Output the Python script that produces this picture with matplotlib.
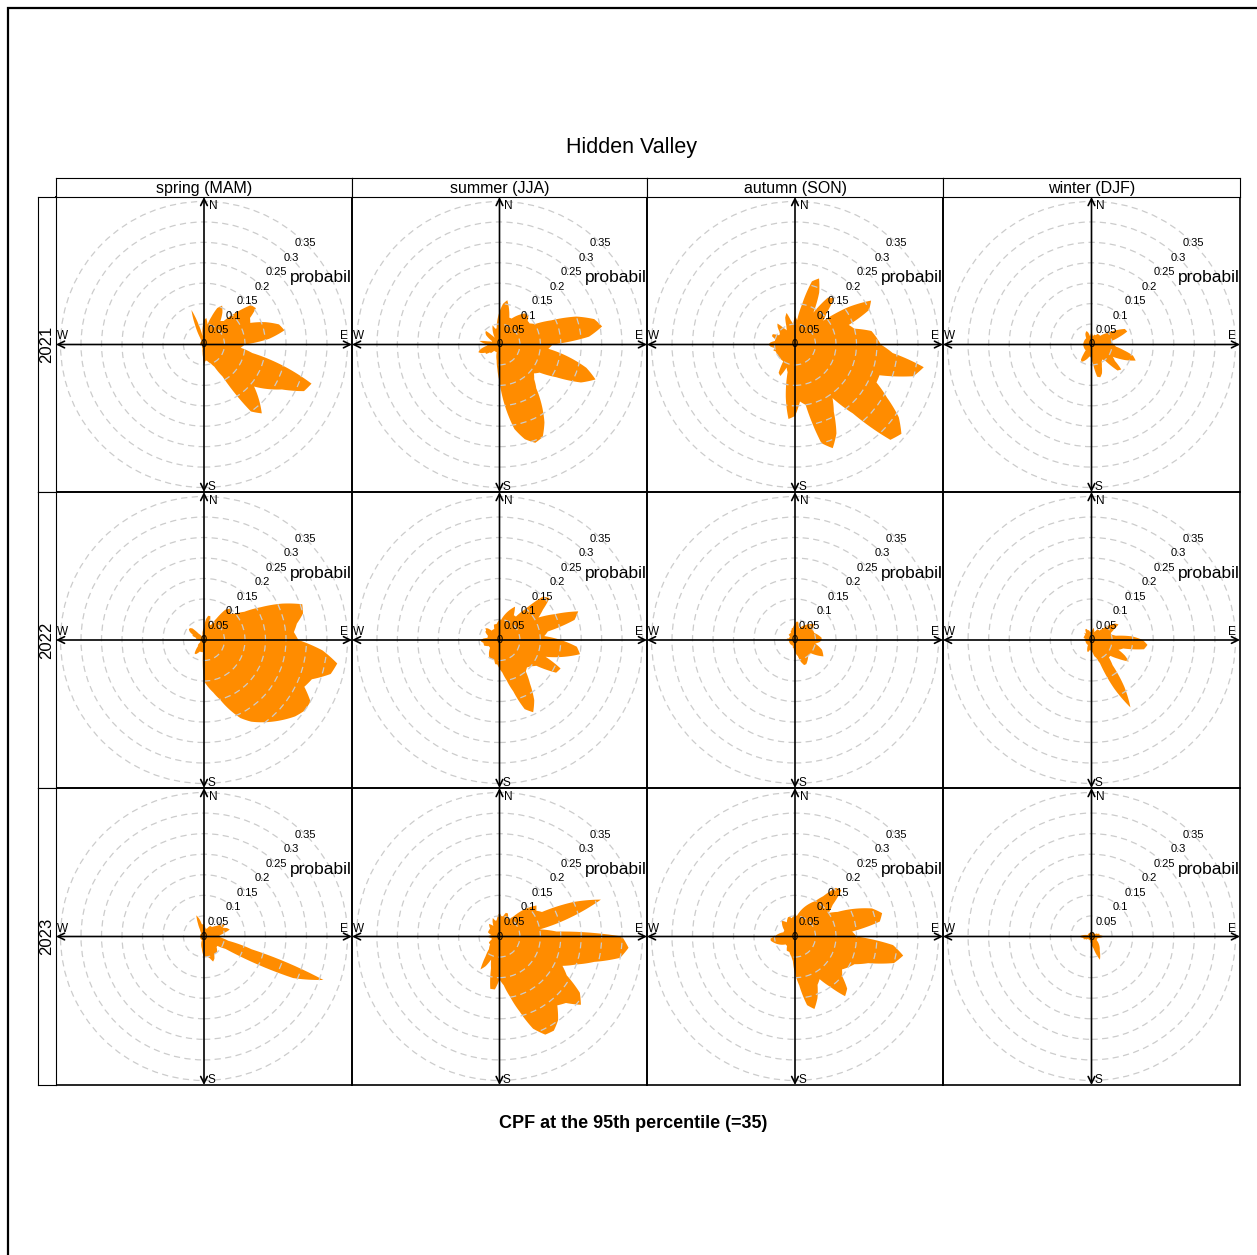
"""
    CPF roses by season and year for Hidden Valley
"""

import numpy as np
import matplotlib
matplotlib.use('Agg')
import matplotlib.pyplot as plt
from matplotlib.path import Path
from matplotlib.patches import PathPatch, Circle, Rectangle

plt.rcParams['font.family'] = ['Liberation Sans', 'DejaVu Sans']

seasons = ['spring (MAM)', 'summer (JJA)', 'autumn (SON)', 'winter (DJF)']
years = ['2021', '2022', '2023']
wd = np.arange(0, 360, 5)          # wind direction, degrees
rings = [0.05, 0.1, 0.15, 0.2, 0.25, 0.3, 0.35]
ring_labels = ['0.05', '0.1', '0.15', '0.2', '0.25', '0.3', '0.35']

# CPF probability for each 5 degree direction (0, 5, ... 355), 12 values per line
spring_2021 = [0.06, 0.065, 0.05, 0.07, 0.095, 0.105, 0.09, 0.07, 0.075, 0.11, 0.15, 0.155,
               0.13, 0.125, 0.16, 0.19, 0.20, 0.16, 0.10, 0.09, 0.12, 0.20, 0.28, 0.27,
               0.22, 0.19, 0.16, 0.19, 0.22, 0.20, 0.09, 0.06, 0.05, 0.045, 0.04, 0.04,
               0.05, 0.03, 0.02, 0.015, 0.01, 0.01, 0.01, 0.008, 0.005, 0.005, 0.005, 0.005,
               0.005, 0.005, 0.005, 0.005, 0.01, 0.01, 0.01, 0.01, 0.01, 0.01, 0.01, 0.01,
               0.01, 0.01, 0.01, 0.01, 0.01, 0.01, 0.02, 0.05, 0.09, 0.05, 0.02, 0.04]
summer_2021 = [0.08, 0.10, 0.11, 0.09, 0.07, 0.07, 0.08, 0.09, 0.10, 0.10, 0.09, 0.09,
               0.10, 0.14, 0.20, 0.24, 0.255, 0.22, 0.13, 0.12, 0.17, 0.22, 0.25, 0.22,
               0.16, 0.12, 0.11, 0.12, 0.14, 0.18, 0.22, 0.25, 0.256, 0.24, 0.21, 0.15,
               0.09, 0.06, 0.04, 0.03, 0.02, 0.02, 0.02, 0.02, 0.02, 0.03, 0.03, 0.04,
               0.04, 0.05, 0.055, 0.05, 0.04, 0.03, 0.03, 0.04, 0.05, 0.03, 0.02, 0.02,
               0.03, 0.04, 0.045, 0.047, 0.03, 0.02, 0.03, 0.04, 0.05, 0.04, 0.04, 0.06]
autumn_2021 = [0.07, 0.06, 0.10, 0.16, 0.172, 0.14, 0.09, 0.14, 0.148, 0.11, 0.09, 0.16,
               0.215, 0.20, 0.14, 0.15, 0.19, 0.20, 0.21, 0.24, 0.32, 0.30, 0.22, 0.22,
               0.26, 0.31, 0.34, 0.33, 0.22, 0.16, 0.19, 0.24, 0.27, 0.25, 0.15, 0.14,
               0.175, 0.183, 0.13, 0.07, 0.06, 0.085, 0.08, 0.05, 0.05, 0.05, 0.05, 0.05,
               0.05, 0.05, 0.05, 0.055, 0.05, 0.06, 0.065, 0.06, 0.05, 0.05, 0.06, 0.06,
               0.045, 0.045, 0.05, 0.06, 0.067, 0.05, 0.04, 0.05, 0.07, 0.08, 0.06, 0.05]
winter_2021 = [0.03, 0.025, 0.02, 0.025, 0.025, 0.025, 0.03, 0.03, 0.03, 0.03, 0.04, 0.05,
               0.07, 0.09, 0.093, 0.07, 0.05, 0.05, 0.055, 0.06, 0.08, 0.105, 0.115, 0.09,
               0.06, 0.07, 0.095, 0.09, 0.05, 0.045, 0.05, 0.06, 0.075, 0.083, 0.08, 0.05,
               0.035, 0.03, 0.03, 0.035, 0.04, 0.045, 0.049, 0.045, 0.03, 0.02, 0.02, 0.02,
               0.02, 0.02, 0.02, 0.02, 0.02, 0.02, 0.025, 0.02, 0.02, 0.02, 0.02, 0.02,
               0.02, 0.02, 0.02, 0.02, 0.02, 0.025, 0.03, 0.033, 0.035, 0.03, 0.02, 0.025]
spring_2022 = [0.03, 0.05, 0.06, 0.06, 0.04, 0.04, 0.06, 0.09, 0.10, 0.09, 0.10, 0.12,
               0.16, 0.21, 0.255, 0.25, 0.23, 0.22, 0.23, 0.29, 0.33, 0.32, 0.28, 0.27,
               0.30, 0.30, 0.29, 0.275, 0.26, 0.245, 0.23, 0.21, 0.18, 0.15, 0.13, 0.115,
               0.10, 0.03, 0.03, 0.03, 0.03, 0.035, 0.04, 0.04, 0.03, 0.02, 0.02, 0.015,
               0.01, 0.01, 0.01, 0.01, 0.01, 0.01, 0.01, 0.015, 0.02, 0.02, 0.03, 0.03,
               0.04, 0.045, 0.045, 0.04, 0.02, 0.015, 0.01, 0.01, 0.01, 0.015, 0.02, 0.025]
summer_2022 = [0.05, 0.05, 0.06, 0.07, 0.08, 0.09, 0.07, 0.07, 0.10, 0.15, 0.16, 0.13,
               0.11, 0.15, 0.205, 0.19, 0.12, 0.11, 0.15, 0.19, 0.20, 0.16, 0.12, 0.165,
               0.16, 0.11, 0.10, 0.095, 0.10, 0.13, 0.17, 0.195, 0.18, 0.13, 0.10, 0.08,
               0.07, 0.06, 0.06, 0.05, 0.05, 0.05, 0.05, 0.045, 0.04, 0.035, 0.03, 0.03,
               0.03, 0.035, 0.04, 0.04, 0.04, 0.045, 0.045, 0.04, 0.03, 0.03, 0.03, 0.035,
               0.04, 0.04, 0.045, 0.04, 0.03, 0.03, 0.03, 0.03, 0.04, 0.04, 0.04, 0.045]
autumn_2022 = [0.04, 0.045, 0.045, 0.035, 0.03, 0.035, 0.04, 0.045, 0.05, 0.055, 0.06, 0.055,
               0.05, 0.05, 0.05, 0.055, 0.06, 0.065, 0.065, 0.06, 0.05, 0.06, 0.07, 0.075,
               0.08, 0.065, 0.05, 0.05, 0.05, 0.055, 0.06, 0.065, 0.065, 0.055, 0.04, 0.035,
               0.03, 0.025, 0.02, 0.02, 0.015, 0.015, 0.015, 0.015, 0.015, 0.015, 0.015, 0.015,
               0.015, 0.015, 0.015, 0.015, 0.015, 0.015, 0.015, 0.02, 0.02, 0.015, 0.015, 0.015,
               0.015, 0.015, 0.02, 0.02, 0.02, 0.02, 0.02, 0.025, 0.025, 0.03, 0.03, 0.035]
winter_2022 = [0.02, 0.025, 0.03, 0.025, 0.02, 0.025, 0.03, 0.03, 0.03, 0.04, 0.055, 0.07,
               0.076, 0.06, 0.05, 0.05, 0.06, 0.10, 0.125, 0.137, 0.13, 0.08, 0.07, 0.09,
               0.105, 0.08, 0.06, 0.06, 0.08, 0.14, 0.19, 0.13, 0.06, 0.045, 0.04, 0.03,
               0.03, 0.025, 0.025, 0.03, 0.03, 0.025, 0.02, 0.015, 0.015, 0.015, 0.015, 0.015,
               0.015, 0.015, 0.015, 0.015, 0.015, 0.015, 0.02, 0.015, 0.015, 0.02, 0.02, 0.02,
               0.02, 0.02, 0.02, 0.025, 0.02, 0.025, 0.03, 0.03, 0.025, 0.025, 0.02, 0.02]
spring_2023 = [0.03, 0.025, 0.02, 0.02, 0.02, 0.025, 0.03, 0.03, 0.03, 0.035, 0.04, 0.05,
               0.06, 0.05, 0.06, 0.065, 0.05, 0.04, 0.035, 0.045, 0.06, 0.12, 0.31, 0.24,
               0.06, 0.04, 0.04, 0.045, 0.05, 0.05, 0.05, 0.06, 0.065, 0.055, 0.05, 0.05,
               0.05, 0.04, 0.03, 0.025, 0.02, 0.015, 0.01, 0.01, 0.01, 0.01, 0.01, 0.01,
               0.01, 0.01, 0.01, 0.01, 0.01, 0.01, 0.01, 0.01, 0.01, 0.01, 0.01, 0.01,
               0.01, 0.01, 0.01, 0.01, 0.01, 0.015, 0.02, 0.035, 0.055, 0.045, 0.03, 0.03]
summer_2023 = [0.058, 0.05, 0.05, 0.06, 0.06, 0.05, 0.05, 0.06, 0.08, 0.10, 0.118, 0.11,
               0.12, 0.20, 0.264, 0.18, 0.10, 0.14, 0.30, 0.317, 0.30, 0.24, 0.20, 0.17,
               0.19, 0.24, 0.26, 0.23, 0.22, 0.25, 0.266, 0.265, 0.24, 0.19, 0.15, 0.12,
               0.105, 0.13, 0.13, 0.08, 0.06, 0.08, 0.093, 0.06, 0.04, 0.035, 0.03, 0.03,
               0.03, 0.025, 0.02, 0.02, 0.02, 0.025, 0.03, 0.025, 0.02, 0.025, 0.03, 0.03,
               0.03, 0.03, 0.03, 0.035, 0.04, 0.035, 0.03, 0.04, 0.048, 0.04, 0.04, 0.05]
autumn_2023 = [0.055, 0.05, 0.06, 0.07, 0.08, 0.09, 0.10, 0.12, 0.155, 0.16, 0.12, 0.10,
               0.12, 0.16, 0.20, 0.22, 0.21, 0.14, 0.15, 0.24, 0.268, 0.25, 0.19, 0.16,
               0.15, 0.14, 0.15, 0.18, 0.19, 0.15, 0.12, 0.13, 0.16, 0.183, 0.17, 0.12,
               0.09, 0.06, 0.05, 0.045, 0.04, 0.04, 0.04, 0.035, 0.03, 0.03, 0.03, 0.035,
               0.04, 0.045, 0.05, 0.055, 0.06, 0.06, 0.05, 0.045, 0.04, 0.035, 0.03, 0.03,
               0.03, 0.035, 0.04, 0.045, 0.05, 0.045, 0.04, 0.045, 0.05, 0.05, 0.045, 0.05]
winter_2023 = [0.01, 0.01, 0.01, 0.01, 0.01, 0.01, 0.01, 0.01, 0.01, 0.01, 0.01, 0.01,
               0.015, 0.015, 0.02, 0.02, 0.02, 0.025, 0.03, 0.025, 0.02, 0.015, 0.015, 0.015,
               0.015, 0.015, 0.02, 0.025, 0.03, 0.035, 0.04, 0.05, 0.06, 0.045, 0.03, 0.025,
               0.02, 0.015, 0.015, 0.01, 0.01, 0.01, 0.01, 0.01, 0.01, 0.01, 0.01, 0.01,
               0.015, 0.015, 0.02, 0.02, 0.02, 0.025, 0.03, 0.025, 0.02, 0.015, 0.01, 0.01,
               0.01, 0.01, 0.01, 0.01, 0.01, 0.01, 0.01, 0.01, 0.01, 0.01, 0.01, 0.01]

panels = [[spring_2021, summer_2021, autumn_2021, winter_2021],
          [spring_2022, summer_2022, autumn_2022, winter_2022],
          [spring_2023, summer_2023, autumn_2023, winter_2023]]

ORANGE = '#FF8C00'
W, H = 1257, 1255
R = 0.361                          # axis half range
col_px = [56, 352, 647, 943, 1240]
row_px = [197, 492, 788, 1085]
strip_h = 19
strip_w = 18


def frac(x0, y0, x1, y1):
    # pixel box (top-left origin) -> figure fraction rect
    return [x0 / W, 1 - y1 / H, (x1 - x0) / W, (y1 - y0) / H]


fig = plt.figure(figsize=(W / 100, H / 100), dpi=100)

# outer border (only top/left visible in the original)
fig.add_artist(Rectangle((8 / W, -0.1), 1.2, 1 - 8 / H + 0.1, transform=fig.transFigure,
                         fill=False, ec='black', lw=1.6))

fig.text(631 / W, 1 - 148 / H, 'Hidden Valley', ha='center', va='center', fontsize=15.5)
fig.text(633 / W, 1 - 1123 / H, 'CPF at the 95th percentile (=35)', ha='center',
         va='center', fontsize=13, fontweight='bold')

px = lambda n: n * 0.72   # pixels -> points

for i, year in enumerate(years):
    for j, season in enumerate(seasons):
        x0, x1 = col_px[j], col_px[j + 1]
        y0, y1 = row_px[i], row_px[i + 1]
        vals = np.array(panels[i][j])

        # filled rose in a polar axes
        axp = fig.add_axes(frac(x0, y0, x1, y1), projection='polar', zorder=1)
        axp.set_theta_zero_location('N')
        axp.set_theta_direction(-1)
        axp.set_rlim(0, R)
        axp.axis('off')
        theta = np.deg2rad(np.append(wd, 360))
        r = np.append(vals, vals[0])
        path = Path(np.column_stack([theta, r])).interpolated(10)
        axp.add_patch(PathPatch(path, facecolor=ORANGE, edgecolor='none'))

        # grid, axes and labels on top
        ax = fig.add_axes(frac(x0, y0, x1, y1), zorder=2)
        ax.set_facecolor('none')
        ax.set_xlim(-R, R)
        ax.set_ylim(-R, R)
        ax.set_xticks([])
        ax.set_yticks([])
        for sp in ax.spines.values():
            sp.set_linewidth(1.2)
        for rv in rings:
            ax.add_patch(Circle((0, 0), rv, fill=False, ec='#cccccc', lw=0.9,
                                ls=(0, (5, 3.5))))
        for a, b in [((-R, 0), (R, 0)), ((0, -R), (0, R))]:
            ax.annotate('', xy=b, xytext=a,
                        arrowprops=dict(arrowstyle='<->', color='black', lw=1.2,
                                        shrinkA=0, shrinkB=0, mutation_scale=12))
        ax.annotate('N', xy=(0, R), xytext=(px(9), px(-9)), textcoords='offset points',
                    ha='center', va='center', fontsize=8.5)
        ax.annotate('S', xy=(0, -R), xytext=(px(7), px(5)), textcoords='offset points',
                    ha='center', va='center', fontsize=8.5)
        ax.annotate('W', xy=(-R, 0), xytext=(px(7), px(8)), textcoords='offset points',
                    ha='center', va='center', fontsize=8.5)
        ax.annotate('E', xy=(R, 0), xytext=(px(-8), px(8)), textcoords='offset points',
                    ha='center', va='center', fontsize=8.5)
        s45 = np.sin(np.pi / 4)
        ax.text(0, 0, '0', ha='center', va='center', fontsize=8)
        for rv, lab in zip(rings, ring_labels):
            ax.text(rv * s45, rv * s45, lab, ha='center', va='center', fontsize=8)
        ax.text(0.21, 0.163, 'probability', ha='left', va='center', fontsize=12.5,
                clip_on=True)

        # top strip
        if i == 0:
            axs = fig.add_axes(frac(x0, y0 - strip_h, x1, y0), zorder=3)
            axs.set_xticks([])
            axs.set_yticks([])
            axs.text(0.5, 0.45, season, ha='center', va='center', fontsize=11.5,
                     transform=axs.transAxes)
        # left strip
        if j == 0:
            axl = fig.add_axes(frac(x0 - strip_w, y0, x0, y1), zorder=3)
            axl.set_xticks([])
            axl.set_yticks([])
            axl.text(0.5, 0.5, year, ha='center', va='center', fontsize=12,
                     rotation=90, transform=axl.transAxes)

plt.savefig('out.png', dpi=100)
